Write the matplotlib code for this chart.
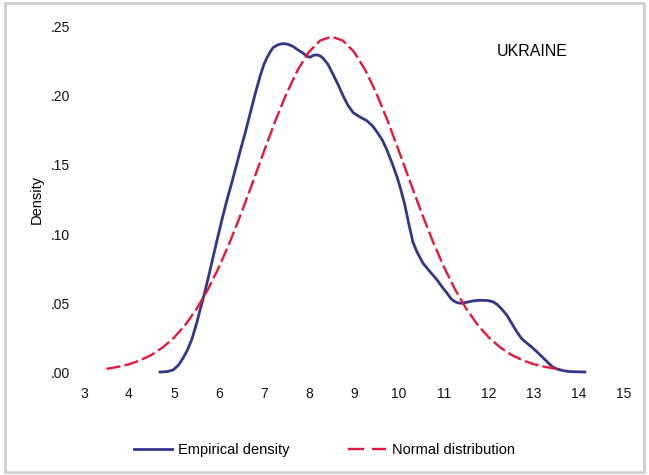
import matplotlib
matplotlib.use("Agg")
import matplotlib.pyplot as plt
from matplotlib.lines import Line2D
from matplotlib.patches import Rectangle

plt.rcParams['font.family'] = ['Liberation Sans', 'DejaVu Sans']

# empirical kernel density
emp_x = [4.69, 4.85, 4.98, 5.10, 5.20, 5.30, 5.40, 5.50, 5.58, 5.67, 5.76, 5.86,
         5.96, 6.07, 6.18, 6.30, 6.47, 6.58, 6.69, 6.80, 6.91, 7.00, 7.07, 7.14,
         7.20, 7.30, 7.42, 7.53, 7.64, 7.75, 7.87, 7.95, 8.02, 8.10, 8.18, 8.25,
         8.31, 8.42, 8.53, 8.65, 8.76, 8.87, 8.98, 9.12, 9.29, 9.42, 9.53, 9.63,
         9.73, 9.85, 9.96, 10.05, 10.13, 10.22, 10.31, 10.40, 10.53, 10.68, 10.84,
         10.95, 11.07, 11.16, 11.24, 11.32, 11.40, 11.50, 11.64, 11.80, 11.96,
         12.08, 12.18, 12.30, 12.40, 12.51, 12.62, 12.73, 12.84, 12.95, 13.07,
         13.18, 13.29, 13.40, 13.51, 13.65, 13.80, 14.13]
emp_y = [0.000, 0.0003, 0.0015, 0.005, 0.010, 0.016, 0.024, 0.035, 0.045, 0.056,
         0.068, 0.082, 0.096, 0.111, 0.125, 0.139, 0.160, 0.173, 0.187, 0.201,
         0.214, 0.223, 0.228, 0.232, 0.235, 0.237, 0.238, 0.2375, 0.236, 0.2335,
         0.231, 0.229, 0.228, 0.2295, 0.2298, 0.229, 0.2275, 0.223, 0.216, 0.208,
         0.200, 0.193, 0.188, 0.185, 0.182, 0.178, 0.173, 0.168, 0.161, 0.151,
         0.141, 0.131, 0.121, 0.107, 0.094, 0.087, 0.079, 0.073, 0.067, 0.062,
         0.057, 0.053, 0.051, 0.050, 0.0498, 0.0505, 0.0515, 0.052, 0.0518, 0.051,
         0.049, 0.045, 0.041, 0.035, 0.029, 0.024, 0.021, 0.018, 0.0145, 0.011,
         0.0075, 0.004, 0.0022, 0.001, 0.0003, 0.000]

# fitted normal curve
norm_x = [3.5, 3.75, 4.0, 4.25, 4.5, 4.75, 5.0, 5.25, 5.5, 5.75, 6.0, 6.25, 6.5,
          6.75, 7.0, 7.25, 7.5, 7.75, 8.0, 8.25, 8.5, 8.75, 9.0, 9.25, 9.5, 9.75,
          10.0, 10.25, 10.5, 10.75, 11.0, 11.25, 11.5, 11.75, 12.0, 12.25, 12.5,
          12.75, 13.0, 13.25, 13.5]
norm_y = [0.0023, 0.0037, 0.0056, 0.0085, 0.0124, 0.0178, 0.0249, 0.0341, 0.0456,
          0.0596, 0.0760, 0.0948, 0.1155, 0.1375, 0.1599, 0.1818, 0.2018, 0.2189,
          0.2320, 0.2402, 0.2430, 0.2402, 0.2320, 0.2189, 0.2018, 0.1818, 0.1599,
          0.1375, 0.1155, 0.0948, 0.0760, 0.0596, 0.0456, 0.0341, 0.0249, 0.0178,
          0.0124, 0.0085, 0.0056, 0.0037, 0.0023]

xticks = list(range(3, 16))
yticks = [0.0, 0.05, 0.10, 0.15, 0.20, 0.25]
ytick_labels = [".00", ".05", ".10", ".15", ".20", ".25"]

NAVY = "#35358a"
RED = "#e6173d"

fig = plt.figure(figsize=(6.49, 4.75), dpi=100)
ax = fig.add_axes([0.1294, 0.2168, 0.8321, 0.7264])

emp_line, = ax.plot(emp_x, emp_y, color=NAVY, lw=2.0, solid_joinstyle="round",
                    clip_on=False)
ax.plot(norm_x, norm_y, color=RED, lw=1.7, dashes=(6, 1.8), clip_on=False)

ax.set_xlim(3, 15)
ax.set_ylim(0, 0.25)
ax.set_xticks(xticks)
ax.set_xticklabels([str(t) for t in xticks])
ax.set_yticks(yticks)
ax.set_yticklabels(ytick_labels)
ax.tick_params(length=0, labelsize=10, colors="#111111")
ax.tick_params(axis="x", pad=10.5)
ax.tick_params(axis="y", pad=10)
for s in ax.spines.values():
    s.set_visible(False)

ax.set_ylabel("Density", fontsize=10.5, labelpad=5)
fig.text(0.82, 0.892, "UKRAINE", fontsize=11.5, ha="center", va="center")

norm_handle = Line2D([], [], color=RED, lw=1.7, dashes=(6.8, 3.4))
fig.legend([emp_line, norm_handle], ["Empirical density", "Normal distribution"],
           loc="center", bbox_to_anchor=(0.50, 0.053), ncol=2, frameon=False,
           fontsize=10.5, handlelength=2.6, handletextpad=0.4, columnspacing=4.0)

fig.add_artist(Rectangle((0.008, 0.006), 0.985, 0.988, transform=fig.transFigure,
                         fill=False, edgecolor="#cfcfcf", lw=2))

fig.savefig("out.png", dpi=100)
